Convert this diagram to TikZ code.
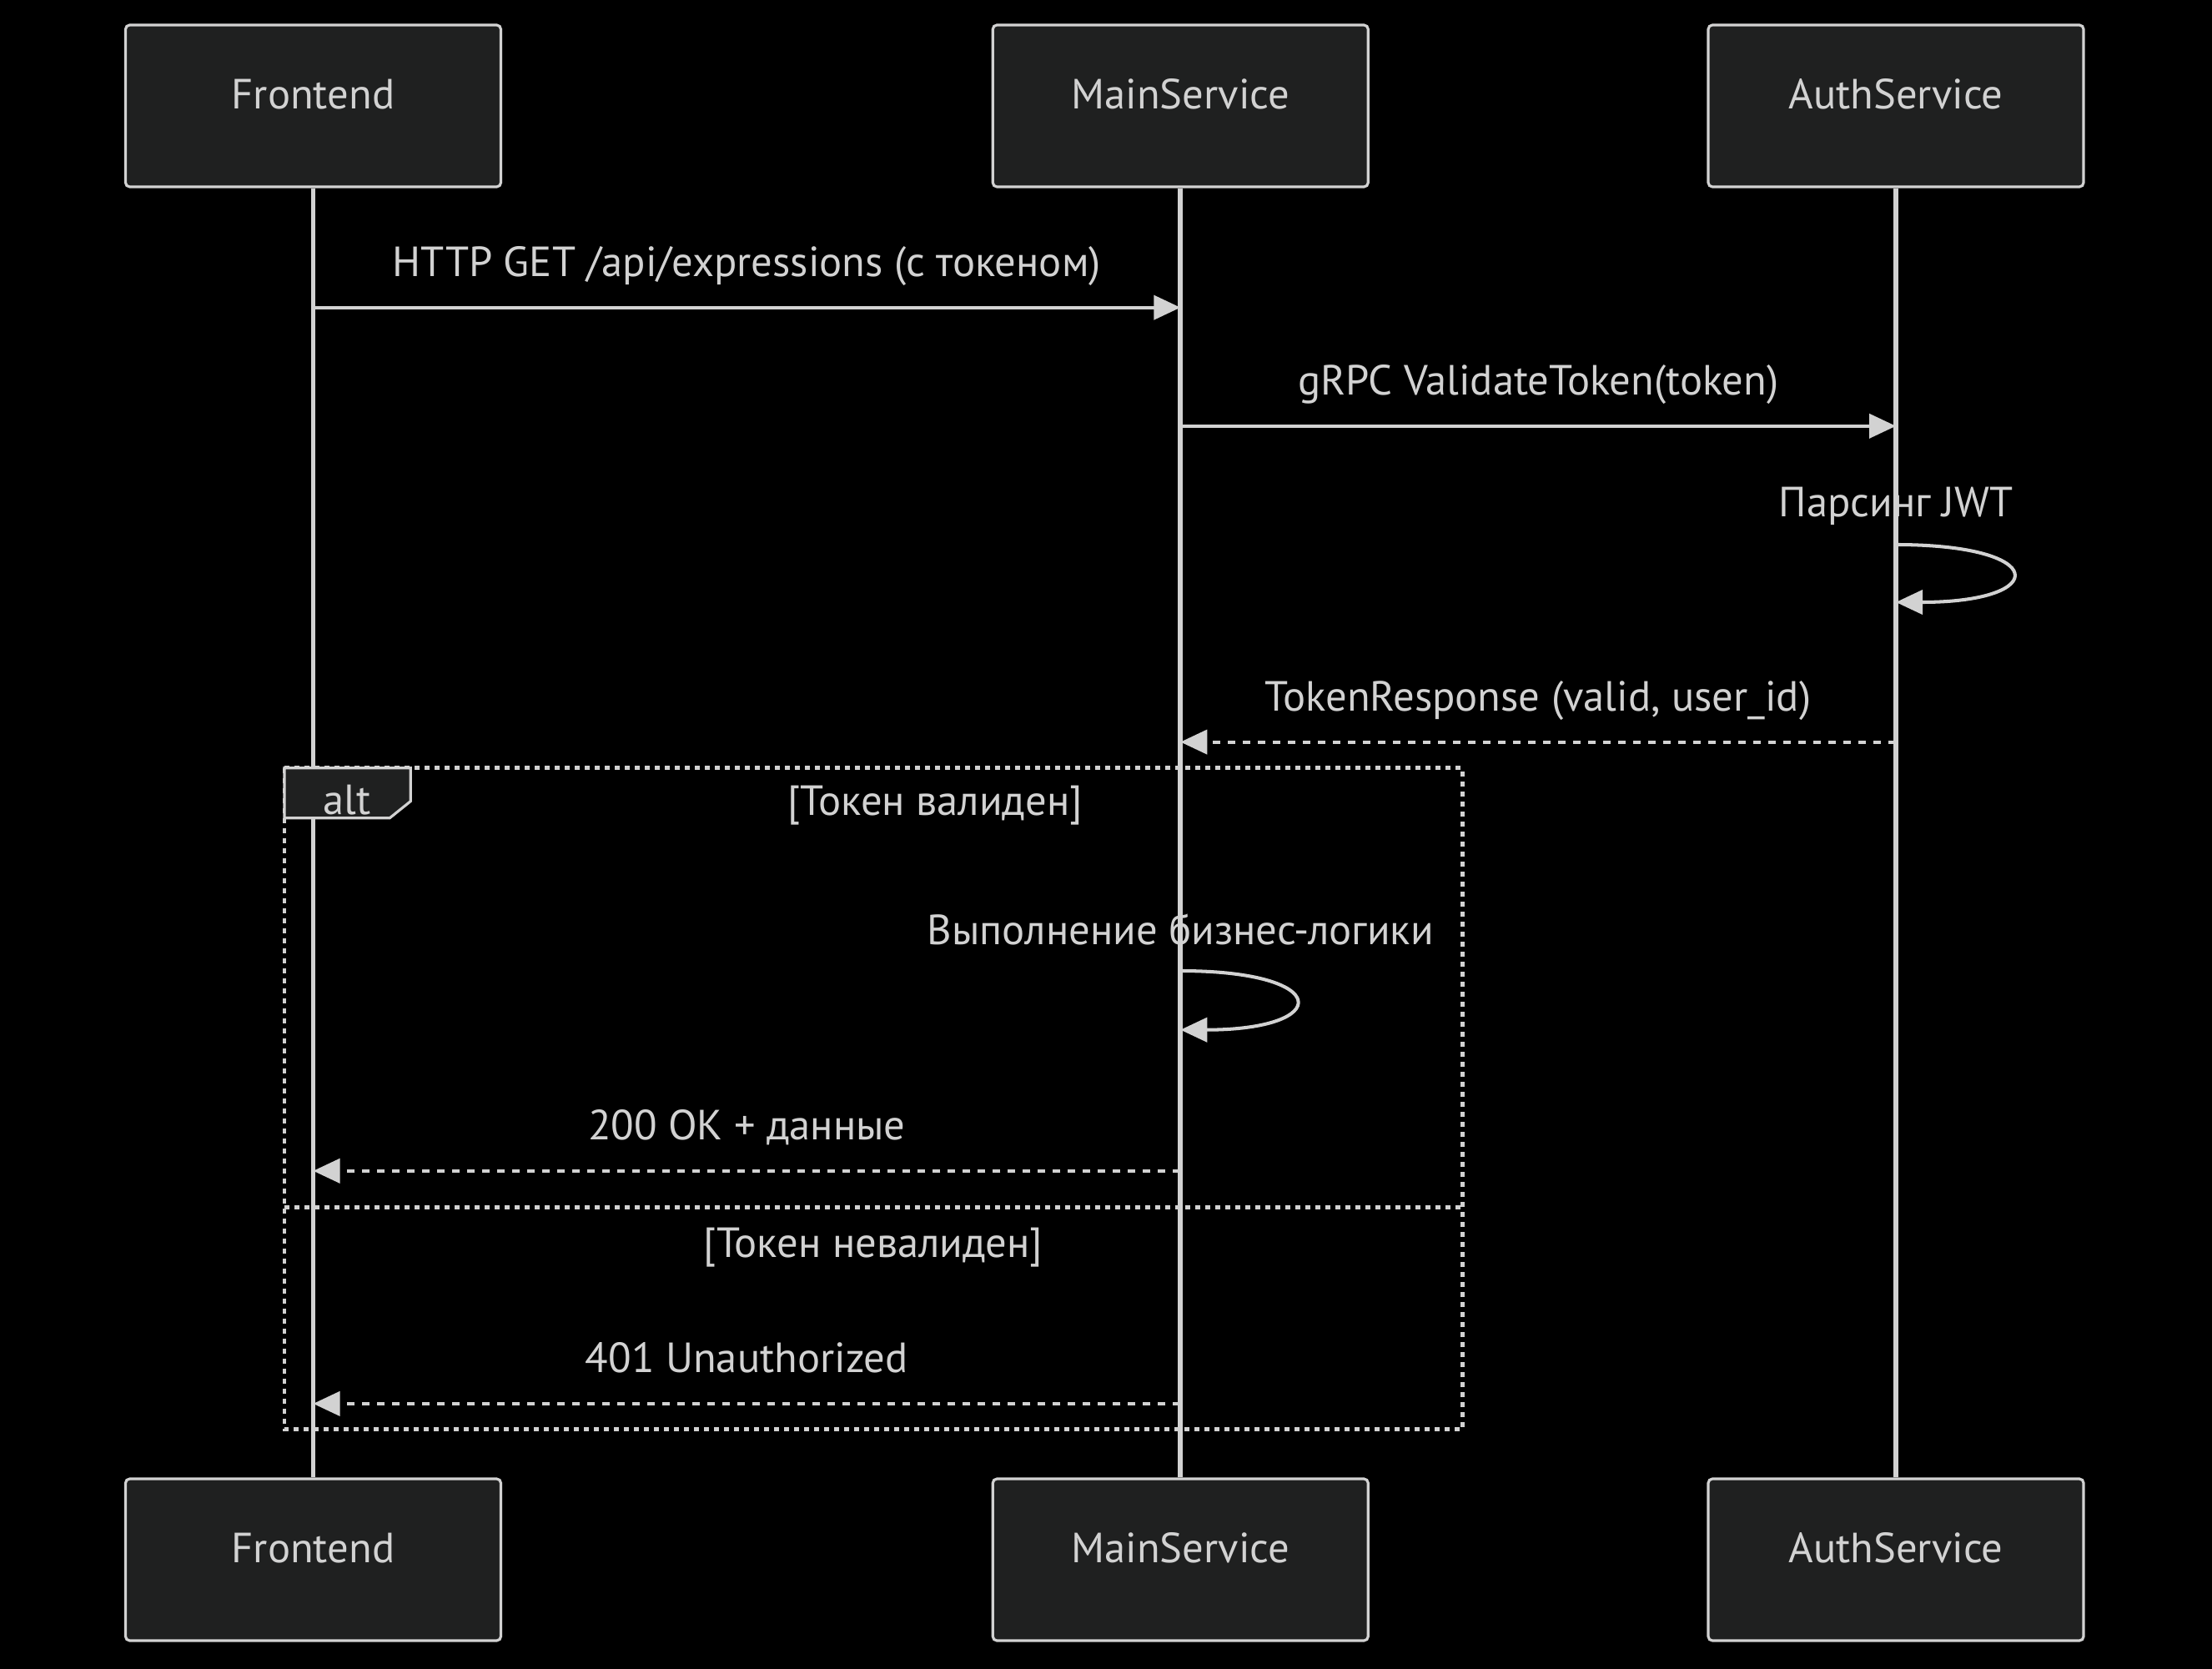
\documentclass[tikz,border=0pt]{standalone}
\usepackage{fontspec}
\setmainfont{PT Sans}
\usepackage{tikz}
\usetikzlibrary{positioning, arrows.meta}
\usepackage{xcolor}
\definecolor{ink}{RGB}{210,210,210}
\definecolor{boxfill}{RGB}{31,32,32}

\tikzset{
	actor/.style={draw=ink, fill=boxfill, line width=0.9pt, rounded corners=0.05cm, minimum width=4.5cm, minimum height=1.94cm, inner sep=0pt, text=ink, text height=0.34cm, text depth=0.272cm},
	life/.style={draw=ink, line width=1.6pt},
	msg/.style={draw=ink, line width=1.15pt, -{Triangle[length=0.32cm,width=0.29cm]}},
	reply/.style={msg, dash pattern=on 0.09cm off 0.09cm},
	lbl/.style={text=ink, inner sep=0pt, text depth=0pt},
	altframe/.style={draw=ink, line width=1.4pt, dash pattern=on 0.06cm off 0.06cm},
	tab/.style={draw=ink, fill=boxfill, line width=0.9pt}
}

\begin{document}
\begin{tikzpicture}[node distance=5.866cm, font=\fontsize{14.4}{17}\selectfont]
		\fill[black] (0,0) rectangle (26.52,-20.01);
		\useasboundingbox (0,0) rectangle (26.52,-20.01);
		
		\node[actor] (fe) at (3.755,-1.27) {Frontend};
		\node[actor, right=of fe] (ms) {MainService};
		\node[actor, right=4.046cm of ms] (as) {AuthService};
		\node[actor] (fe2) at (3.755,-18.70) {Frontend};
		\node[actor, right=of fe2] (ms2) {MainService};
		\node[actor, right=4.046cm of ms2] (as2) {AuthService};
		
		\draw[life] (fe) -- (fe2);
		\draw[life] (ms) -- (ms2);
		\draw[life] (as) -- (as2);
		
		% alt frame
		\draw[altframe] (3.41,-9.207) rectangle (17.535,-17.133);
		\draw[altframe] (3.41,-14.478) -- (17.535,-14.478);
		\draw[tab] (3.41,-9.207) -- (4.922,-9.207) -- (4.922,-9.607) -- (4.673,-9.807) -- (3.41,-9.807) -- cycle;
		\node[lbl, anchor=base] (alt) at (4.16,-9.76) {alt};
		\node[lbl, anchor=base] (ok) at (11.21,-9.777) {[Токен валиден]};
		\node[lbl, anchor=base] (bad) at (10.47,-15.071) {[Токен невалиден]};
		
		\coordinate (f1) at (fe |- 0,-3.687);
		\coordinate (m1) at (ms |- 0,-3.687);
		\coordinate (m2) at (ms |- 0,-5.108);
		\coordinate (a2) at (as |- 0,-5.108);
		\coordinate (a3) at (as |- 0,-6.53);
		\coordinate (a3e) at (as |- 0,-7.22);
		\coordinate (a4) at (as |- 0,-8.896);
		\coordinate (m4) at (ms |- 0,-8.896);
		\coordinate (m5) at (ms |- 0,-11.64);
		\coordinate (m5e) at (ms |- 0,-12.347);
		\coordinate (m6) at (ms |- 0,-14.038);
		\coordinate (f6) at (fe |- 0,-14.038);
		\coordinate (m7) at (ms |- 0,-16.829);
		\coordinate (f7) at (fe |- 0,-16.829);
		
		\draw[msg] (f1) -- (m1) node[lbl, midway, above=0.35cm] {HTTP GET /api/expressions (с токеном)};
		\draw[msg] (m2) -- (a2) node[lbl, midway, above=0.35cm] {gRPC ValidateToken(token)};
		\draw[msg] (a3) .. controls +(1.85,0) and +(1.85,0) .. (a3e) node[lbl, at start, above=0.31cm] {Парсинг JWT};
		\draw[reply] (a4) -- (m4) node[lbl, midway, above=0.35cm] {TokenResponse (valid, user\_id)};
		\draw[msg] (m5) .. controls +(1.83,0) and +(1.83,0) .. (m5e) node[lbl, at start, above=0.29cm] {Выполнение бизнес-логики};
		\draw[reply] (m6) -- (f6) node[lbl, midway, above=0.35cm] {200 OK + данные};
		\draw[reply] (m7) -- (f7) node[lbl, midway, above=0.35cm] {401 Unauthorized};
		
	\end{tikzpicture}
\end{document}
